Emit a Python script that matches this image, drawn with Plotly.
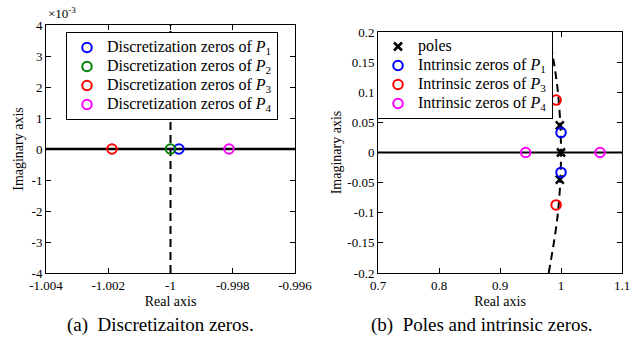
import plotly.graph_objects as go

# ---- data: left panel (discretization zeros) ----
p1_re = [-0.99973]; p1_im = [0.0]
p2_re = [-1.00000]; p2_im = [0.0]
p3_re = [-1.00188]; p3_im = [0.0]
p4_re = [-0.99812]; p4_im = [0.0]
left_circle_re = [-1.0, -1.0]
left_circle_im = [-0.004, 0.004]
left_xticks = [-1.004, -1.002, -1.0, -0.998, -0.996]
left_xticklabels = ["-1.004", "-1.002", "-1", "-0.998", "-0.996"]
left_yticks = [-0.004, -0.003, -0.002, -0.001, 0, 0.001, 0.002, 0.003, 0.004]
left_yticklabels = ["-4", "-3", "-2", "-1", "0", "1", "2", "3", "4"]

# ---- data: right panel (poles and intrinsic zeros) ----
poles_re = [0.998, 1.0, 0.998]
poles_im = [0.045, 0.0, -0.045]
iz1_re = [1.0, 1.0]; iz1_im = [0.033, -0.033]
iz3_re = [0.992, 0.992]; iz3_im = [0.087, -0.087]
iz4_re = [0.942, 1.064]; iz4_im = [0.0, 0.0]
right_circle_re = [0.9798, 0.9950, 1.0, 0.9950, 0.9798]
right_circle_im = [-0.2, -0.1, 0.0, 0.1, 0.2]
right_xticks = [0.7, 0.8, 0.9, 1.0, 1.1]
right_xticklabels = ["0.7", "0.8", "0.9", "1", "1.1"]
right_yticks = [-0.2, -0.15, -0.1, -0.05, 0, 0.05, 0.1, 0.15, 0.2]
right_yticklabels = ["-0.2", "-0.15", "-0.1", "-0.05", "0", "0.05", "0.1", "0.15", "0.2"]

FONT = "Liberation Serif"
W, H = 640, 338


def leg(txt):
    return '<span style="font-size:16px">' + txt + '</span>'


fig = go.Figure()

# Left panel lines
fig.add_trace(go.Scatter(x=[left_xticks[0], left_xticks[-1]], y=[0, 0], mode="lines",
                         line=dict(color="black", width=2.5), showlegend=False,
                         xaxis="x", yaxis="y", hoverinfo="skip"))
fig.add_trace(go.Scatter(x=left_circle_re, y=left_circle_im, mode="lines",
                         line=dict(color="black", width=2, dash="8px,5px"), showlegend=False,
                         xaxis="x", yaxis="y", hoverinfo="skip"))

circ = dict(symbol="circle-open", size=9.5, line=dict(width=2))
for re, im, col, name in [
    (p1_re, p1_im, "#0000ff", "Discretization zeros of <i>P</i><sub>1</sub>"),
    (p2_re, p2_im, "#008000", "Discretization zeros of <i>P</i><sub>2</sub>"),
    (p3_re, p3_im, "#ff0000", "Discretization zeros of <i>P</i><sub>3</sub>"),
    (p4_re, p4_im, "#ff00ff", "Discretization zeros of <i>P</i><sub>4</sub>"),
]:
    fig.add_trace(go.Scatter(x=re, y=im, mode="markers", name=leg(name),
                             marker=dict(color=col, **circ),
                             xaxis="x", yaxis="y", legend="legend"))

# Right panel lines
fig.add_trace(go.Scatter(x=[right_xticks[0], right_xticks[-1]], y=[0, 0], mode="lines",
                         line=dict(color="black", width=2), showlegend=False,
                         xaxis="x2", yaxis="y2", hoverinfo="skip"))
fig.add_trace(go.Scatter(x=right_circle_re, y=right_circle_im, mode="lines",
                         line=dict(color="black", width=2, dash="8px,5px", shape="spline"),
                         showlegend=False, xaxis="x2", yaxis="y2", hoverinfo="skip"))

fig.add_trace(go.Scatter(x=poles_re, y=poles_im, mode="markers", name=leg("poles"),
                         marker=dict(symbol="x-thin-open", size=8, color="black",
                                     line=dict(width=2.5, color="black")),
                         xaxis="x2", yaxis="y2", legend="legend2"))
for re, im, col, name in [
    (iz1_re, iz1_im, "#0000ff", "Intrinsic zeros of <i>P</i><sub>1</sub>"),
    (iz3_re, iz3_im, "#ff0000", "Intrinsic zeros of <i>P</i><sub>3</sub>"),
    (iz4_re, iz4_im, "#ff00ff", "Intrinsic zeros of <i>P</i><sub>4</sub>"),
]:
    fig.add_trace(go.Scatter(x=re, y=im, mode="markers", name=leg(name),
                             marker=dict(color=col, **circ),
                             xaxis="x2", yaxis="y2", legend="legend2"))

axis_common = dict(showline=True, linecolor="black", linewidth=1, mirror="ticks",
                   ticks="inside", ticklen=5, tickcolor="black", showgrid=False,
                   zeroline=False, automargin=False,
                   tickfont=dict(family=FONT, size=13, color="black"))

ydom = [1 - 273 / H, 1 - 25 / H]
ydom2 = [1 - 273 / H, 1 - 32 / H]
fig.update_layout(
    width=W, height=H,
    margin=dict(l=0, r=0, t=0, b=0, autoexpand=False),
    paper_bgcolor="white", plot_bgcolor="white",
    font=dict(family=FONT, size=13, color="black"),
    xaxis=dict(domain=[46 / W, 295 / W], range=[-1.004, -0.996],
               tickvals=left_xticks, ticktext=left_xticklabels,
               title=dict(text="Real axis", font=dict(family=FONT, size=14), standoff=4),
               anchor="y", **axis_common),
    yaxis=dict(domain=ydom, range=[-0.004, 0.004],
               tickvals=left_yticks, ticktext=left_yticklabels,
               title=dict(text="Imaginary axis", font=dict(family=FONT, size=14), standoff=4),
               anchor="x", **axis_common),
    xaxis2=dict(domain=[378 / W, 622 / W], range=[0.7, 1.1],
                tickvals=right_xticks, ticktext=right_xticklabels,
                title=dict(text="Real axis", font=dict(family=FONT, size=14), standoff=4),
                anchor="y2", **axis_common),
    yaxis2=dict(domain=ydom2, range=[-0.2, 0.2],
                tickvals=right_yticks, ticktext=right_yticklabels,
                title=dict(text="Imaginary axis", font=dict(family=FONT, size=14), standoff=2),
                anchor="x2", **axis_common),
    legend=dict(x=66 / W, y=1 - 32 / H, xanchor="left", yanchor="top",
                bgcolor="white", bordercolor="black", borderwidth=1,
                font=dict(family=FONT, size=11.5, color="black"),
                tracegroupgap=0, itemwidth=30),
    legend2=dict(x=377 / W, y=1 - 31 / H, xanchor="left", yanchor="top",
                 bgcolor="white", bordercolor="black", borderwidth=1,
                 font=dict(family=FONT, size=11.5, color="black"),
                 tracegroupgap=0, itemwidth=30),
    annotations=[
        dict(text="×10<sup>-3</sup>", x=46 / W, y=1 - 23 / H, xref="paper", yref="paper",
             xanchor="left", yanchor="bottom", showarrow=False,
             font=dict(family=FONT, size=13)),
        dict(text="(a)&nbsp;&nbsp;Discretizaiton zeros.", x=160.5 / W, y=1 - 325 / H,
             xref="paper", yref="paper", xanchor="center", yanchor="middle",
             showarrow=False, font=dict(family=FONT, size=19)),
        dict(text="(b)&nbsp;&nbsp;Poles and intrinsic zeros.", x=482 / W, y=1 - 325 / H,
             xref="paper", yref="paper", xanchor="center", yanchor="middle",
             showarrow=False, font=dict(family=FONT, size=19)),
    ],
)

fig.write_html("out.html", config={"displayModeBar": False},
               post_script="document.body.style.margin='0';document.body.style.padding='0';")
